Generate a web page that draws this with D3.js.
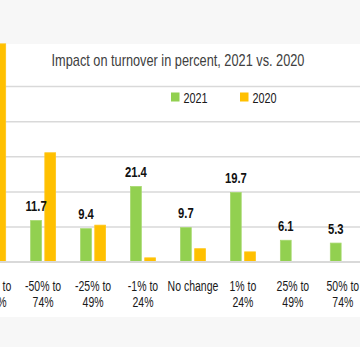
<!DOCTYPE html>
<html>
<head>
<meta charset="utf-8">
<script src="https://cdn.jsdelivr.net/npm/d3@7"></script>
<style>
  body { margin: 0; background: #fff; }
  svg { display: block; font-family: "Liberation Sans", Arial, sans-serif; }
</style>
</head>
<body>
<svg id="chart"></svg>
<script>

// Chart data
const categories = ["-75% to 100%", "-50% to 74%", "-25% to 49%", "-1% to 24%", "No change", "1% to 24%", "25% to 49%", "50% to 74%"]
const series = ["2021", "2020"]
const values2021 = [10.5, 11.7, 9.4, 21.4, 9.7, 19.7, 6.1, 5.3]
const values2020 = [62, 31, 10.4, 1.1, 3.7, 2.8, 0, 0]
const yTicks = [0, 10, 20, 30, 40, 50]
const colors = ["#92d050", "#ffc000"]

const w = 360
const h = 347

const svg = d3.select("#chart")
    .attr("width", w)
    .attr("height", h)

// gray bands top and bottom
svg.append("rect").attr("x", 0).attr("y", 0).attr("width", w).attr("height", 44).attr("fill", "#f7f7f7")
svg.append("rect").attr("x", 0).attr("y", 317).attr("width", w).attr("height", h - 317).attr("fill", "#f7f7f7")

// scales, the picture is cropped so the first band starts left of 0
const step = 49.95
const x0 = -31.8
const xScale = d3.scaleBand()
    .domain(categories)
    .range([x0, x0 + step * categories.length])

const xSub = d3.scaleBand()
    .domain(series)
    .range([step / 2 - 12.5, step / 2 + 12.5])
    .paddingInner(0.24)

const yScale = d3.scaleLinear()
    .domain([0, 50])
    .range([261.7, 86])

const color = d3.scaleOrdinal().domain(series).range(colors)

// gridlines
const grid = svg.append("g")
    .call(d3.axisLeft(yScale).tickValues(yTicks).tickSize(-w).tickFormat(""))
grid.select(".domain").remove()
grid.selectAll(".tick line")
    .attr("stroke", "#d9d9d9")
    .attr("stroke-width", 1.5)

// helper: text placed at x,y but squeezed horizontally (the original font is condensed)
function narrowText(parent, x, y, str, size, sq) {
    return parent.append("text")
        .attr("transform", `translate(${x},${y}) scale(${sq},1)`)
        .attr("font-size", size)
        .text(str)
}

// title
narrowText(svg, 178, 65.5, "Impact on turnover in percent, 2021 vs. 2020", 17, 0.75)
    .attr("text-anchor", "middle")
    .attr("fill", "#404040")

// legend
const legendX = [171, 240]
series.forEach((s, i) => {
    svg.append("rect")
        .attr("x", legendX[i]).attr("y", 92.5)
        .attr("width", 8.5).attr("height", 9)
        .attr("fill", color(s))
    narrowText(svg, legendX[i] + 12.5, 102.5, s, 14.5, 0.75)
        .attr("fill", "#1a1a1a")
})

// bars
const rows = categories.map((c, i) => ({ cat: c, vals: [values2021[i], values2020[i]] }))

const groups = svg.selectAll(".group")
    .data(rows)
    .enter()
    .append("g")
    .attr("class", "group")
    .attr("transform", d => `translate(${xScale(d.cat)},0)`)

groups.selectAll("rect")
    .data(d => d.vals.map((v, j) => ({ key: series[j], v: v })).filter(e => e.v > 0))
    .enter()
    .append("rect")
    .attr("x", d => xSub(d.key))
    .attr("width", xSub.bandwidth())
    .attr("y", d => yScale(d.v))
    .attr("height", d => yScale(0) - yScale(d.v))
    .attr("fill", d => color(d.key))
    .attr("stroke", d => d.key == "2021" ? "#a6d86e" : "#ffc61a")
    .attr("stroke-width", 0.8)

// value labels over the 2021 bars
groups.each(function(d) {
    narrowText(d3.select(this), xSub("2021") + xSub.bandwidth() / 2, yScale(d.vals[0]) - 9.5, d.vals[0].toFixed(1), 15, 0.75)
        .attr("text-anchor", "middle")
        .attr("font-weight", "bold")
        .attr("fill", "#111")
})

// baseline
svg.append("line")
    .attr("x1", 0).attr("x2", w)
    .attr("y1", yScale(0)).attr("y2", yScale(0))
    .attr("stroke", "#d9d9d9")
    .attr("stroke-width", 1.5)

// category labels, split on " to "
const xAxis = svg.append("g")
    .attr("transform", `translate(0, ${yScale(0)})`)
    .call(d3.axisBottom(xScale).tickSize(0).tickFormat(""))
xAxis.select(".domain").remove()

xAxis.selectAll(".tick")
    .append("text")
    .attr("text-anchor", "middle")
    .attr("font-size", 15)
    .attr("fill", "#1a1a1a")
    .attr("transform", "scale(0.7,1)")
    .each(function(d) {
        const parts = d.includes(" to ") ? [d.split(" to ")[0] + " to", d.split(" to ")[1]] : [d]
        parts.forEach((p, i) => {
            d3.select(this).append("tspan")
                .attr("x", 0)
                .attr("y", 29.5 + i * 16)
                .text(p)
        })
    })

</script>
</body>
</html>
